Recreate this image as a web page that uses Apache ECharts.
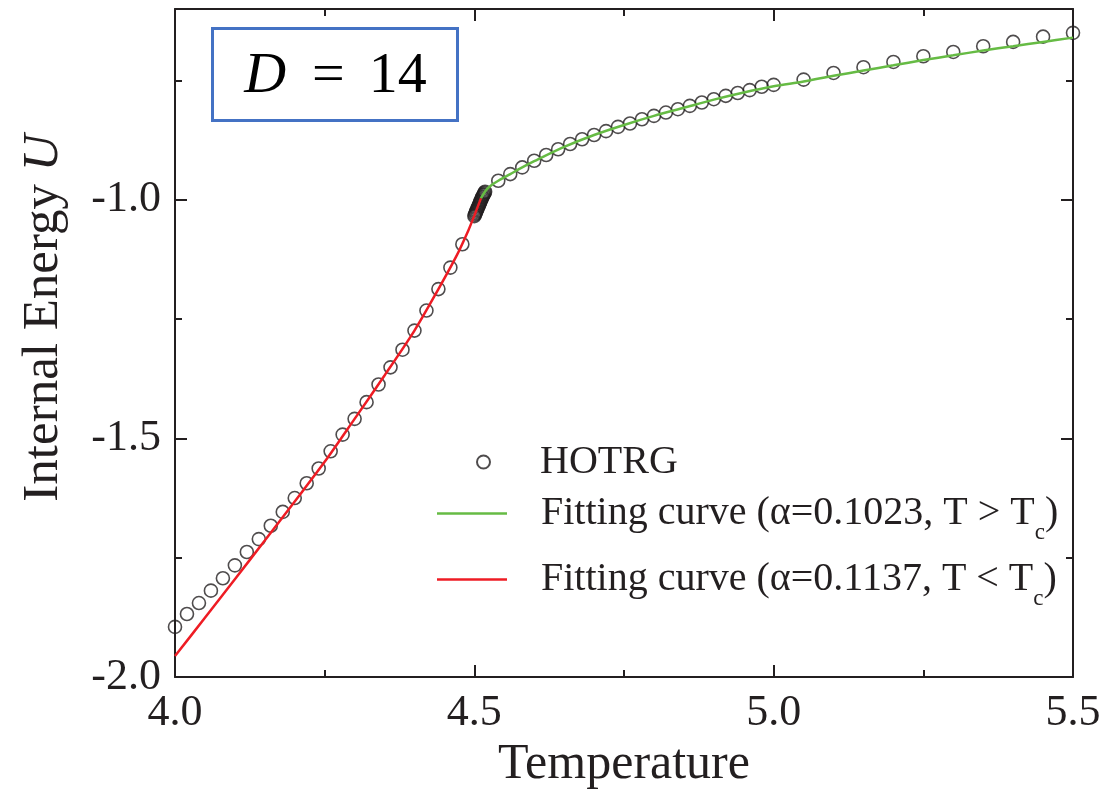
<!DOCTYPE html>
<html>
<head>
<meta charset="utf-8">
<script src="https://cdn.jsdelivr.net/npm/echarts@6/dist/echarts.min.js"></script>
<style>
  html, body { margin: 0; padding: 0; background: #fff; }
  #chart { width: 1102px; height: 801px; }
</style>
</head>
<body>
<div id="chart"></div>
<script>
// HOTRG internal energy U(T) for bond dimension D = 14
const hotrgT = [
  4.00, 4.02, 4.04, 4.06, 4.08, 4.10, 4.12, 4.14, 4.16, 4.18,
  4.20, 4.22, 4.24, 4.26, 4.28, 4.30, 4.32, 4.34, 4.36, 4.38,
  4.40, 4.42, 4.44, 4.46, 4.48,
  4.500, 4.501, 4.502, 4.503, 4.504, 4.505, 4.506, 4.507, 4.508, 4.509,
  4.510, 4.511, 4.512, 4.513, 4.514, 4.515, 4.516, 4.517, 4.518,
  4.54, 4.56, 4.58, 4.60, 4.62, 4.64, 4.66, 4.68, 4.70, 4.72,
  4.74, 4.76, 4.78, 4.80, 4.82, 4.84, 4.86, 4.88, 4.90, 4.92,
  4.94, 4.96, 4.98, 5.00,
  5.05, 5.10, 5.15, 5.20, 5.25, 5.30, 5.35, 5.40, 5.45, 5.50
];
const hotrgU = [
  -1.895, -1.868, -1.845, -1.819, -1.793, -1.766, -1.738, -1.711, -1.683, -1.654,
  -1.625, -1.594, -1.563, -1.527, -1.492, -1.459, -1.424, -1.387, -1.351, -1.314,
  -1.274, -1.232, -1.187, -1.142, -1.093,
  -1.034, -1.031, -1.028, -1.025, -1.022, -1.019, -1.016, -1.013, -1.010, -1.007,
  -1.004, -1.001, -0.998, -0.995, -0.993, -0.990, -0.988, -0.985, -0.983,
  -0.960, -0.946, -0.932, -0.918, -0.906, -0.894, -0.883, -0.873, -0.864, -0.856,
  -0.847, -0.840, -0.831, -0.824, -0.817, -0.810, -0.803, -0.796, -0.789, -0.782,
  -0.776, -0.770, -0.763, -0.759,
  -0.748, -0.734, -0.722, -0.711, -0.699, -0.690, -0.678, -0.669, -0.658, -0.650
];

// Fit above Tc (alpha = 0.1023)
const fitAboveT = [4.511, 4.52, 4.53, 4.54, 4.56, 4.58, 4.60, 4.65, 4.70, 4.75, 4.80, 4.85,
  4.90, 4.95, 5.00, 5.05, 5.10, 5.15, 5.20, 5.25, 5.30, 5.35, 5.40, 5.45, 5.50];
const fitAboveU = [-0.997, -0.979, -0.968, -0.960, -0.946, -0.932, -0.919, -0.889, -0.864, -0.843, -0.824, -0.807,
  -0.790, -0.775, -0.762, -0.752, -0.740, -0.729, -0.718, -0.707, -0.697, -0.687, -0.678, -0.669, -0.660];

// Fit below Tc (alpha = 0.1137)
const fitBelowT = [4.00, 4.05, 4.10, 4.15, 4.20, 4.25, 4.30, 4.35, 4.40, 4.44, 4.47, 4.49, 4.50, 4.511];
const fitBelowU = [-1.956, -1.876, -1.795, -1.714, -1.632, -1.549, -1.459, -1.368, -1.274, -1.187, -1.118, -1.064, -1.033, -0.997];

const seriesNames = [
  'HOTRG',
  'Fitting curve (\u03b1=0.1023, T > Tc)',
  'Fitting curve (\u03b1=0.1137, T < Tc)'
];

const SERIF = '"Liberation Serif", "Times New Roman", serif';
const INK = '#231f20';
const GREEN = '#66bb44';
const RED = '#ee1c24';
const zip = (xs, ys) => xs.map((x, i) => [x, ys[i]]);
const halfStep = v => Math.abs(v * 2 - Math.round(v * 2)) < 1e-6;

const axisLine = { show: true, lineStyle: { color: INK, width: 2 } };
const majorTick = { show: true, inside: true, length: 12, lineStyle: { color: INK, width: 2 } };
const minorTickStyle = { show: true, inside: true, length: 7, lineStyle: { color: INK, width: 2 } };

const chart = echarts.init(document.getElementById('chart'), null, { renderer: 'canvas' });

chart.setOption({
  animation: false,
  backgroundColor: '#fff',
  grid: { left: 175, right: 29, top: 9, bottom: 124, containLabel: false, outerBoundsMode: 'none' },
  xAxis: [
    {
      type: 'value', position: 'bottom', min: 4.0, max: 5.5, interval: 0.5,
      axisLine, axisTick: majorTick,
      minorTick: { show: true, splitNumber: 2, length: 7, lineStyle: { color: INK, width: 2 } },
      splitLine: { show: false }, minorSplitLine: { show: false },
      axisLabel: { color: INK, fontFamily: SERIF, fontSize: 44, margin: 14, formatter: v => v.toFixed(1) },
      name: 'Temperature', nameLocation: 'middle', nameGap: 60,
      nameTextStyle: { color: INK, fontFamily: SERIF, fontSize: 50 }
    },
    {
      type: 'value', position: 'top', min: 4.0, max: 5.5, interval: 0.5,
      axisLine, axisTick: majorTick,
      minorTick: { show: true, splitNumber: 2, length: 7, lineStyle: { color: INK, width: 2 } },
      splitLine: { show: false }, axisLabel: { show: false }
    }
  ],
  yAxis: [
    {
      type: 'value', position: 'left', min: -2.0, max: -0.6, interval: 0.5,
      axisLine, axisTick: majorTick, splitLine: { show: false },
      axisLabel: { color: INK, fontFamily: SERIF, fontSize: 44, margin: 14,
        formatter: v => (halfStep(v) ? v.toFixed(1) : '') },
      name: 'Internal Energy {i|U}', nameLocation: 'middle', nameGap: 106,
      nameTextStyle: {
        color: INK, fontFamily: SERIF, fontSize: 51, padding: [0, 0, 0, 50],
        rich: { i: { fontStyle: 'italic', fontFamily: SERIF, fontSize: 51, color: INK } }
      }
    },
    {
      type: 'value', position: 'left', min: -2.0, max: -0.6, interval: 0.25,
      axisLine: { show: false }, axisTick: minorTickStyle,
      splitLine: { show: false }, axisLabel: { show: false }
    },
    {
      type: 'value', position: 'right', min: -2.0, max: -0.6, interval: 0.5,
      axisLine, axisTick: majorTick, splitLine: { show: false }, axisLabel: { show: false }
    },
    {
      type: 'value', position: 'right', min: -2.0, max: -0.6, interval: 0.25,
      axisLine: { show: false }, axisTick: minorTickStyle,
      splitLine: { show: false }, axisLabel: { show: false }
    }
  ],
  legend: [
    {
      data: [seriesNames[0]], selectedMode: false,
      left: 476, top: 440, padding: 0, itemWidth: 13, itemHeight: 13,
      textStyle: { color: INK, fontFamily: SERIF, fontSize: 40, lineHeight: 44, padding: [0, 0, 0, 45] }
    },
    {
      data: [
        { name: seriesNames[1], icon: 'rect', itemStyle: { color: GREEN } },
        { name: seriesNames[2], icon: 'rect', itemStyle: { color: RED } }
      ],
      selectedMode: false, orient: 'vertical',
      left: 437, top: 483, padding: 0, itemWidth: 70, itemHeight: 2.5, itemGap: 5,
      formatter: name => name.replace(/Tc\)$/, 'T{s|c})'),
      textStyle: {
        color: INK, fontFamily: SERIF, fontSize: 40, lineHeight: 60, padding: [0, 0, 0, 29],
        rich: { s: { color: INK, fontFamily: SERIF, fontSize: 23, lineHeight: 23, padding: [38, 0, 0, 0] } }
      }
    }
  ],
  graphic: [
    {
      type: 'group', left: 211, top: 27, z: 10,
      children: [
        { type: 'rect', shape: { x: 0, y: 0, width: 245, height: 92 },
          style: { fill: '#fff', stroke: '#4472c4', lineWidth: 3 } },
        { type: 'text', x: 123, y: 48,
          style: {
            text: '{i|D}{e|=}{n|14}', align: 'center', verticalAlign: 'middle',
            fill: '#000', fontFamily: SERIF, fontSize: 58,
            rich: {
              i: { fontStyle: 'italic', fontFamily: SERIF, fontSize: 58, fill: '#000' },
              e: { fontFamily: SERIF, fontSize: 58, fill: '#000', padding: [0, 24, 0, 26] },
              n: { fontFamily: SERIF, fontSize: 58, fill: '#000' }
            }
          } }
      ]
    }
  ],
  series: [
    {
      name: seriesNames[0], type: 'scatter', xAxisIndex: 0, yAxisIndex: 0,
      data: zip(hotrgT, hotrgU), symbol: 'circle', symbolSize: 13, z: 2,
      itemStyle: { color: 'rgba(0,0,0,0)', borderColor: INK, borderWidth: 1.6 },
      emphasis: { disabled: true }
    },
    {
      name: seriesNames[1], type: 'line', xAxisIndex: 0, yAxisIndex: 0,
      data: zip(fitAboveT, fitAboveU), smooth: 0.3,
      symbol: 'none', z: 3,
      lineStyle: { color: GREEN, width: 2.5 }, itemStyle: { color: GREEN }
    },
    {
      name: seriesNames[2], type: 'line', xAxisIndex: 0, yAxisIndex: 0,
      data: zip(fitBelowT, fitBelowU), smooth: 0.3,
      symbol: 'none', z: 3,
      lineStyle: { color: RED, width: 2.5 }, itemStyle: { color: RED }
    }
  ]
});
</script>
</body>
</html>
